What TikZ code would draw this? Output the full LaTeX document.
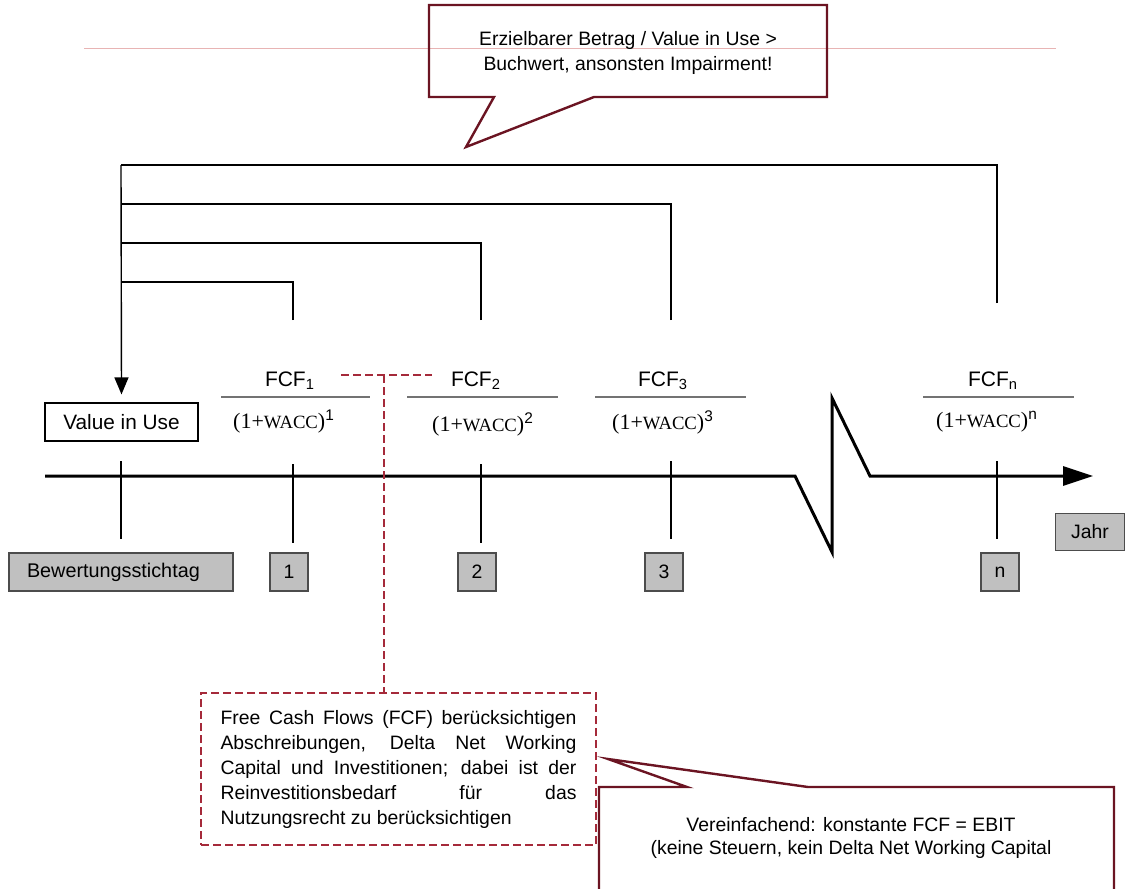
\documentclass[tikz,border=0pt]{standalone}
\usepackage{graphicx}
\usepackage{fontspec}
\setmainfont{Liberation Sans}
\newfontfamily\denomfont{Liberation Serif}
\usetikzlibrary{arrows.meta}

\definecolor{calloutred}{HTML}{6B1422}
\definecolor{notered}{HTML}{A52A3A}
\definecolor{guidepink}{HTML}{E8B4B4}
\definecolor{boxgrey}{HTML}{C0C0C0}

\newcommand{\waccdenom}[1]{{\denomfont (1+\scalebox{0.85}{WACC})}\textsuperscript{#1}}

\begin{document}
\begin{tikzpicture}[x=0.5pt, y=-0.5pt,
    font=\fontsize{9.7}{12.5}\selectfont,
    greybox/.style={draw=black!70, fill=boxgrey, minimum height=19pt, inner sep=0pt, line width=0.6pt},
    thinline/.style={line width=0.7pt},
    axis/.style={line width=1.5pt, line join=miter, -{Triangle[length=15pt,width=9.5pt]}},
    speechbox/.style={draw=calloutred, line width=1.2pt, line join=miter},
    notelink/.style={draw=notered, line width=1pt, dash pattern=on 4pt off 2pt},
    fracline/.style={draw=black!55, line width=0.6pt}]
    \clip (0,0) rectangle (1125,889);
    \draw[guidepink, line width=0.5pt] (84,48) -- (1056,48);

    % Hinweis oben
    \draw[speechbox] (429,5) -- (827,5) -- (827,97) -- (594,97) -- (466,147) -- (494,97) -- (429,97) -- cycle;
    \node[align=center] (impair) at (628,53) {Erzielbarer Betrag / Value in Use >\\Buchwert, ansonsten Impairment!};

    % Barwerte
    \node[draw, line width=0.6pt, minimum width=76.5pt, minimum height=19pt, inner sep=0pt] (viu) at (121.5,422) {\fontsize{10.4}{12}\selectfont Value in Use};
    \node[font=\fontsize{10.5}{12}\selectfont] (fcf1) at (290,381) {FCF\textsubscript{1}};
    \node[font=\fontsize{10.5}{12}\selectfont] (fcf2) at (476,381) {FCF\textsubscript{2}};
    \node[font=\fontsize{10.5}{12}\selectfont] (fcf3) at (663,381) {FCF\textsubscript{3}};
    \node[font=\fontsize{10.5}{12}\selectfont] (fcfn) at (993,381) {FCF\textsubscript{n}};
    \draw[fracline] (221,397) -- (370,397);
    \draw[fracline] (407,397) -- (558,397);
    \draw[fracline] (595,397) -- (746,397);
    \draw[fracline] (923,397) -- (1074,397);
    \node[font=\fontsize{11}{13}\selectfont] (den1) at (284,422) {\waccdenom{1}};
    \node[font=\fontsize{11}{13}\selectfont] (den2) at (483,424) {\waccdenom{2}};
    \node[font=\fontsize{11}{13}\selectfont] (den3) at (663,422) {\waccdenom{3}};
    \node[font=\fontsize{11}{13}\selectfont] (denn) at (987,422) {\waccdenom{n}};

    % Abzinsung
    \draw[thinline] (293,320) |- (121,282);
    \draw[thinline] (481,320) |- (121,243);
    \draw[thinline] (671,320) |- (121,204);
    \draw[thinline] (997,303) |- (121,165);
    \coordinate (rootline) at (121,165);
    \draw[thinline, -{Triangle[length=8.5pt,width=7pt]}] (rootline) -- ([yshift=4pt]viu.north);

    % Zeitachse
    \draw[axis] (45,476) -- (795,476) -- (832,552) -- (832,398) -- (870,476) -- (1093,476);
    \foreach \tx/\ta/\tb in {121/461/539, 293/464/543, 481/464/543, 671/461/539, 997/461/539}
        \draw[thinline] (\tx,\ta) -- (\tx,\tb);

    \node[greybox, minimum width=112pt, text width=94pt, inner xsep=9pt, align=left] (stichtag) at (121,572) {\fontsize{9.9}{12}\selectfont Bewertungsstichtag};
    \node[greybox, minimum width=19pt] (yr1) at (289,572) {1};
    \node[greybox, minimum width=19pt] (yr2) at (477,572) {2};
    \node[greybox, minimum width=19pt] (yr3) at (664,572) {3};
    \node[greybox, minimum width=19pt] (yrn) at (1000,572) {n};
    \node[greybox, minimum width=34.5pt, minimum height=18.5pt] (jahr) at (1090,532) {Jahr};

    % FCF-Erlaeuterung
    \node[notelink, text width=178pt, inner xsep=9.75pt, minimum height=76pt, align=justify] (note) at (398.5,769)
        {\hyphenpenalty=10000 Free Cash Flows (FCF) berücksichtigen\linebreak Abschreibungen, Delta Net Working\linebreak Capital und Investitionen; dabei ist der\linebreak Reinvestitionsbedarf für das\linebreak Nutzungsrecht zu berücksichtigen};
    \coordinate (nl) at (341,375);
    \coordinate (nr) at (432,375);
    \coordinate (nj) at (384,375);
    \draw[notelink] (nl) -- (nr);
    \draw[notelink] (nj) -- (nj |- note.north);

    % Hinweis unten
    \draw[speechbox] (599,895) -- (599,787) -- (687,787) -- (608,759) -- (808,787) -- (1114,787) -- (1114,895);
    \node[align=center, font=\fontsize{9.7}{11.5}\selectfont] (simple) at (851,838) {Vereinfachend: konstante FCF = EBIT\\(keine Steuern, kein Delta Net Working Capital};
\end{tikzpicture}
\end{document}
